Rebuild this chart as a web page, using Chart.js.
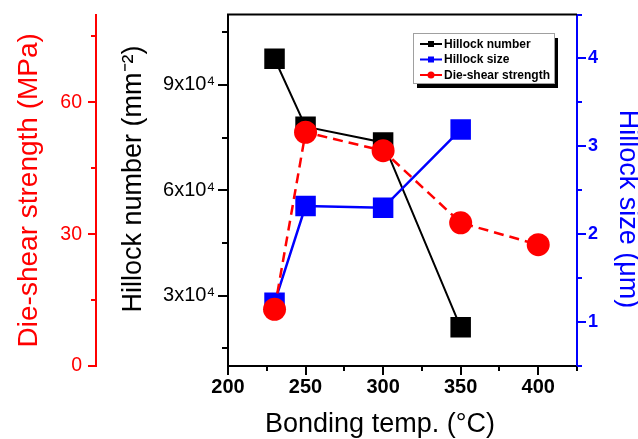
<!DOCTYPE html>
<html>
<head>
<meta charset="utf-8">
<script src="https://cdn.jsdelivr.net/npm/chart.js@4.4.0/dist/chart.umd.min.js"></script>
<style>
  html, body { margin: 0; padding: 0; background: #fff; }
  canvas { display: block; }
</style>
</head>
<body>
<canvas id="hillockChart" width="638" height="439"></canvas>
<script>
// values
var temps = [230, 250, 300, 350, 400];
var hillockNumber = [97400, 78100, 73600, 21000];
var hillockSize = [1.22, 2.32, 2.30, 3.19];
var dieShear = [12.9, 53.2, 49.0, 32.6, 27.6];

var tempTicks = [200, 250, 300, 350, 400];
var shearTicks = [0, 30, 60];
var numberTicks = [30000, 60000, 90000];
var numberTickLabels = ['3x10\u2074', '6x10\u2074', '9x10\u2074'];
var numberAllTicks = [15000, 30000, 45000, 60000, 75000, 90000, 105000];
var sizeTicks = [1, 2, 3, 4];

var FONT = "'Liberation Sans', Arial, sans-serif";
var RED = '#ff0000', BLUE = '#0000ff', BLACK = '#000000';

function pts(ys) {
    return ys.map(function (y, i) { return { x: temps[i], y: y }; });
}
function onlyListed(list, labels) {
    return function (v) {
        for (var i = 0; i < list.length; i++) {
            if (Math.abs(v - list[i]) < 1e-6 * Math.max(1, Math.abs(v))) {
                return labels ? labels[i] : String(list[i]);
            }
        }
        return '';
    };
}

// outward tick marks, long for labelled values, short for the rest
var tickMarks = {
    id: 'tickMarks',
    afterDraw: function (chart, args, opts) {
        var ctx = chart.ctx;
        Object.keys(opts.scales || {}).forEach(function (id) {
            var s = chart.scales[id], o = opts.scales[id];
            if (!s) return;
            ctx.save();
            ctx.strokeStyle = o.color;
            ctx.lineWidth = 2;
            s.ticks.forEach(function (t) {
                var r = t.value / o.major;
                var len = Math.abs(r - Math.round(r)) < 1e-6 ? o.long : o.short;
                var p = Math.round(s.getPixelForValue(t.value));
                ctx.beginPath();
                if (s.position === 'bottom') {
                    ctx.moveTo(p, s.top); ctx.lineTo(p, s.top + len);
                } else if (s.position === 'left') {
                    ctx.moveTo(s.right, p); ctx.lineTo(s.right - len, p);
                } else {
                    ctx.moveTo(s.left, p); ctx.lineTo(s.left + len, p);
                }
                ctx.stroke();
            });
            ctx.restore();
        });
        // top of the frame
        var a = chart.chartArea;
        ctx.save();
        ctx.strokeStyle = BLACK;
        ctx.lineWidth = 2;
        ctx.beginPath();
        ctx.moveTo(a.left - 1, a.top);
        ctx.lineTo(a.right, a.top);
        ctx.stroke();
        ctx.restore();
    }
};

// boxed legend with a drop shadow, inside the plot
var boxLegend = {
    id: 'boxLegend',
    afterDraw: function (chart, args, o) {
        var ctx = chart.ctx;
        ctx.save();
        ctx.fillStyle = BLACK;
        ctx.fillRect(o.x + 4, o.y + 5, o.w, o.h);
        ctx.fillStyle = '#fff';
        ctx.fillRect(o.x, o.y, o.w, o.h);
        ctx.strokeStyle = '#a0a0a0';
        ctx.lineWidth = 1;
        ctx.strokeRect(o.x + 0.5, o.y + 0.5, o.w, o.h);
        ctx.font = 'bold 12px ' + FONT;
        ctx.textBaseline = 'middle';
        ctx.textAlign = 'left';
        chart.data.datasets.forEach(function (ds, i) {
            var y = o.y + 11 + i * 15.5;
            var x0 = o.x + 7, x1 = o.x + 29, xm = (x0 + x1) / 2;
            ctx.strokeStyle = ds.borderColor;
            ctx.fillStyle = ds.borderColor;
            ctx.lineWidth = 2;
            ctx.beginPath();
            ctx.moveTo(x0, y); ctx.lineTo(x1, y);
            ctx.stroke();
            ctx.beginPath();
            if (ds.pointStyle === 'circle') ctx.arc(xm, y, 3.5, 0, Math.PI * 2);
            else ctx.rect(xm - 3, y - 3, 6, 6);
            ctx.fill();
            ctx.fillStyle = BLACK;
            ctx.fillText(ds.label, x1 + 2, y + 0.5);
        });
        ctx.restore();
    }
};

function fixWidth(w) {
    return function (s) { s.width = w; s.paddingTop = 0; s.paddingBottom = 0; };
}

var ctx = document.getElementById('hillockChart').getContext('2d');
var chart = new Chart(ctx, {
    type: 'line',
    data: {
        datasets: [{
            label: 'Hillock number',
            data: pts(hillockNumber),
            yAxisID: 'yNumber',
            borderColor: BLACK,
            backgroundColor: BLACK,
            borderWidth: 2,
            pointStyle: 'rect',
            pointRadius: 14.5,
            pointBorderWidth: 0,
            order: 2
        }, {
            label: 'Hillock size',
            data: pts(hillockSize),
            yAxisID: 'ySize',
            borderColor: BLUE,
            backgroundColor: BLUE,
            borderWidth: 2.5,
            pointStyle: 'rect',
            pointRadius: 14.5,
            pointBorderWidth: 0,
            order: 1
        }, {
            label: 'Die-shear strength',
            data: pts(dieShear),
            yAxisID: 'yShear',
            borderColor: RED,
            backgroundColor: RED,
            borderWidth: 2.5,
            borderDash: [10, 6],
            pointStyle: 'circle',
            pointRadius: 11.5,
            pointBorderWidth: 0,
            order: 0
        }]
    },
    options: {
        responsive: false,
        animation: false,
        devicePixelRatio: 1,
        layout: { padding: { top: 12, left: 0, right: 0, bottom: 0 } },
        plugins: {
            legend: { display: false },
            tooltip: { enabled: false },
            tickMarks: {
                scales: {
                    x: { major: 50, long: 9, short: 5, color: BLACK },
                    yShear: { major: 30, long: 8, short: 5, color: RED },
                    yNumber: { major: 30000, long: 10, short: 6, color: BLACK },
                    ySize: { major: 1, long: 9, short: 5, color: BLUE }
                }
            },
            boxLegend: { x: 413, y: 33, w: 141, h: 50 }
        },
        scales: {
            x: {
                type: 'linear',
                position: 'bottom',
                min: 200,
                max: 425,
                grid: { drawOnChartArea: false, drawTicks: false },
                border: { color: BLACK, width: 2 },
                ticks: {
                    stepSize: 25,
                    autoSkip: false,
                    maxRotation: 0,
                    padding: 9,
                    color: BLACK,
                    font: { family: FONT, size: 20, weight: 'bold' },
                    callback: onlyListed(tempTicks)
                },
                title: {
                    display: true,
                    text: 'Bonding temp. (\u00b0C)      ',
                    color: BLACK,
                    font: { family: FONT, size: 27, lineHeight: 1 },
                    padding: { top: 0, bottom: 1 }
                },
                afterFit: function (s) { s.height = 73; s.paddingLeft = 0; s.paddingRight = 0; }
            },
            yShear: {
                type: 'linear',
                position: 'left',
                weight: 2,
                min: 0,
                max: 80,
                grid: { drawOnChartArea: false, drawTicks: false },
                border: { color: RED, width: 2 },
                ticks: {
                    stepSize: 15,
                    includeBounds: false,
                    autoSkip: false,
                    padding: 14,
                    color: RED,
                    font: { family: FONT, size: 19.5 },
                    callback: onlyListed(shearTicks)
                },
                title: {
                    display: true,
                    text: 'Die-shear strength (MPa)',
                    color: RED,
                    font: { family: FONT, size: 28, lineHeight: 1 },
                    padding: { top: 15, bottom: 0 }
                },
                afterFit: fixWidth(96)
            },
            yNumber: {
                type: 'linear',
                position: 'left',
                weight: 1,
                min: 10000,
                max: 110000,
                grid: { drawOnChartArea: false, drawTicks: false },
                border: { color: BLACK, width: 2 },
                afterBuildTicks: function (s) {
                    s.ticks = numberAllTicks.map(function (v) { return { value: v }; });
                },
                ticks: {
                    autoSkip: false,
                    padding: 13,
                    color: BLACK,
                    font: { family: FONT, size: 20 },
                    callback: onlyListed(numberTicks, numberTickLabels)
                },
                title: {
                    display: true,
                    text: '   Hillock number (mm\u207b\u00b2)',
                    color: BLACK,
                    font: { family: FONT, size: 27, lineHeight: 1 },
                    padding: { top: 24.5, bottom: 0 }
                },
                afterFit: fixWidth(132)
            },
            ySize: {
                type: 'linear',
                position: 'right',
                min: 0.5,
                max: 4.5,
                grid: { drawOnChartArea: false, drawTicks: false },
                border: { color: BLUE, width: 2 },
                ticks: {
                    stepSize: 0.5,
                    autoSkip: false,
                    padding: 11,
                    color: BLUE,
                    font: { family: FONT, size: 18, weight: 'bold' },
                    callback: onlyListed(sizeTicks)
                },
                title: {
                    display: true,
                    text: '     Hillock size (\u03bcm)',
                    color: BLUE,
                    font: { family: FONT, size: 27, lineHeight: 0.8 },
                    padding: { top: 0, bottom: 0 }
                },
                afterFit: fixWidth(61)
            }
        }
    },
    plugins: [tickMarks, boxLegend]
});
</script>
</body>
</html>
